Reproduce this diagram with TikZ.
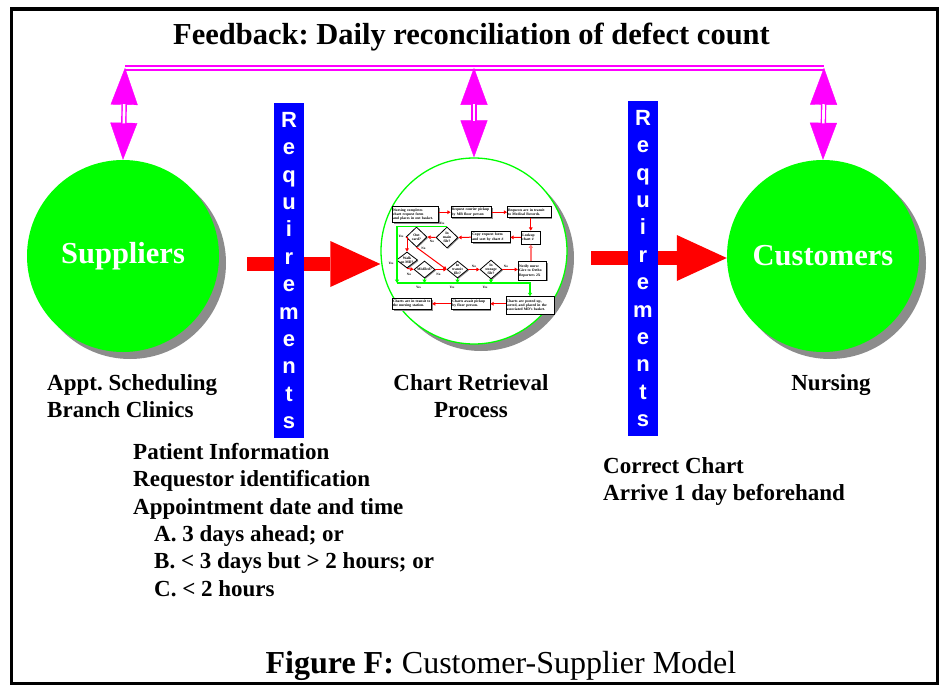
\documentclass[tikz,border=0pt]{standalone}
\usepackage{fontspec}
\setmainfont{Liberation Serif}
\newfontfamily\reqfont{Liberation Sans}
\usetikzlibrary{arrows.meta,shapes.geometric,shadows,calc}
\definecolor{lime1}{RGB}{0,255,0}
\definecolor{shadowg}{RGB}{140,140,140}
\definecolor{mag}{RGB}{255,0,255}
\definecolor{pureblue}{RGB}{0,0,255}
\definecolor{purered}{RGB}{255,0,0}
\definecolor{pinkred}{RGB}{255,120,120}
\newcommand\minifont{\fontsize{3.7}{4.3}\selectfont\bfseries}
\newcommand\yesnofont{\fontsize{3.3}{3.6}\selectfont\bfseries}
\frenchspacing
\begin{document}
\begin{tikzpicture}[x=1pt,y=-1pt,
  frame/.style={draw=black,line width=3.5pt},
  bigcirc/.style={circle,minimum size=192pt,inner sep=0pt,fill=lime1,text=white,
    font=\fontsize{30.5}{34}\selectfont\bfseries,
    copy shadow={shadow xshift=7pt,shadow yshift=-7pt,fill=shadowg,draw=none}},
  chartcirc/.style={circle,minimum size=186pt,inner sep=0pt,draw=lime1,line width=1.3pt,fill=white,
    copy shadow={shadow xshift=7pt,shadow yshift=-7pt,fill=shadowg,draw=none}},
  feedline/.style={draw=mag,line width=2pt,double=white,double distance=1.8pt},
  fbhead/.style={draw=mag,line width=0.4pt,
    {Triangle[width=27pt,length=37pt]}-{Triangle[width=27pt,length=37pt]}},
  fbshaft/.style={draw=mag,line width=1.4pt,double=white,double distance=2.6pt,
    shorten <=36.5pt,shorten >=36.5pt},
  bigred/.style={draw=purered,line width=14pt,-{Triangle[width=46pt,length=50pt,line width=0pt]}},
  reqbar/.style={fill=pureblue,minimum width=30pt,minimum height=335pt,inner sep=0pt},
  reqtxt/.style={text=white,font=\reqfont\bfseries\fontsize{22}{27.4}\selectfont,
    align=center,inner sep=0pt,anchor=north},
  lbl/.style={font=\fontsize{23}{27.4}\selectfont\bfseries,inner sep=0pt},
  mbox/.style={draw=black,line width=0.8pt,fill=white,inner sep=0.7pt,align=left,font=\minifont,
    copy shadow={shadow xshift=1.3pt,shadow yshift=-1.3pt,fill=black!45,draw=none}},
  dia/.style={diamond,draw=black,line width=0.8pt,fill=white,inner sep=0pt,
    copy shadow={shadow xshift=1pt,shadow yshift=-1pt,fill=black!45,draw=none}},
  dtext/.style={font=\minifont,align=center,inner sep=0pt},
  yn/.style={font=\yesnofont,inner sep=0pt},
  mred/.style={draw=purered,line width=1pt,-{Triangle[width=3.6pt,length=3.2pt]}},
  mpink/.style={draw=pinkred,line width=1.4pt,-{Triangle[width=4pt,length=3.4pt]}},
  mgreenarr/.style={draw=lime1,line width=1.2pt,-{Triangle[width=4pt,length=3.4pt]}}
]
\useasboundingbox (0,0) rectangle (943,685);
\fill[white] (0,0) rectangle (943,685);
\draw[frame] (11.7,9.2) rectangle (937.5,683.5);

% title
\node[font=\fontsize{30.5}{34}\selectfont\bfseries,anchor=base,inner sep=0pt] (title) at (471.5,45)
  {Feedback: Daily reconciliation of defect count};

% circles
\node[bigcirc] (sup) at (123,256) {Suppliers};
\node[bigcirc] (cus) at (823,256) {Customers};
\node[chartcirc] (chart) at (474,251) {};

% feedback line and arrows
\coordinate (fA) at (125,67.75);
\coordinate (fB) at (474,67.75);
\coordinate (fC) at (824,67.75);
\draw[feedline] (fA) -- (fC);
\foreach \c/\n in {fA/sup,fB/chart,fC/cus}{
  \draw[fbhead] (\c) -- (\n.north);
  \draw[fbshaft] (\c) -- (\n.north);
}

% big red arrows
\coordinate (la) at (247,264);
\coordinate (ra) at (591,258);
\draw[bigred] (la) -- (la -| chart.west);
\draw[bigred] (ra) -- (ra -| cus.west);

% requirement bars
\node[reqbar] (reqL) at (289,270.5) {};
\node[reqtxt] (reqLt) at (289,112) {R\\e\\q\\u\\i\\r\\e\\m\\e\\n\\t\\s};
\node[reqbar] (reqR) at (643,268.5) {};
\node[reqtxt] (reqRt) at (643,110) {R\\e\\q\\u\\i\\r\\e\\m\\e\\n\\t\\s};

% mini flowchart
\node[mbox,text width=44.5pt,minimum height=16pt] (b1) at (415.3,214.7)
  {Nursing completes\\chart request form\\and places in out basket.};
\node[mbox,text width=39.3pt,minimum height=11pt] (b2) at (471.3,212.2)
  {Request courier pickup\\by MR floor person};
\node[mbox,text width=42.3pt,minimum height=11pt] (b3) at (529.2,212.2)
  {Requests are in transit\\to Medical Records.};
\node[mbox,text width=17pt,minimum height=13pt] (lk) at (530.8,237.5)
  {Lookup\\chart \#};
\node[mbox,text width=37pt,minimum height=11pt] (cp) at (490.8,237.2)
  {Copy request form\\and sort by chart \#};
\node[mbox,text width=27pt,minimum height=18.3pt] (nt) at (532.5,270.8)
  {Notify nurse\\Give to Ortho\\Reporters 2X};
\node[mbox,text width=46.6pt,minimum height=17.3pt] (po) at (530,305.3)
  {Charts are posted up,\\sorted, and placed in the\\associated MD's basket.};
\node[mbox,text width=37pt,minimum height=11pt] (aw) at (470.8,303.8)
  {Charts await pickup\\by floor person.};
\node[mbox,text width=38pt,minimum height=11pt] (tr) at (412,303.8)
  {Charts are in transit to\\the nursing station.};

\node[dia,minimum width=22pt,minimum height=21pt] (dmain) at (447,237.5) {};
\node[dtext] (dmaint) at (dmain) {In\\main\\file?};
\node[dia,minimum width=21pt,minimum height=20pt] (dout) at (416.5,237) {};
\node[dtext] (doutt) at (dout) {Out\\card?};
\node[dia,minimum width=21pt,minimum height=16pt] (dwalk) at (407,260) {};
\node[dtext] (dwalkt) at (dwalk) {Walk\\on MD?};
\node[dia,minimum width=21pt,minimum height=17pt] (dmis) at (424.5,269.5) {};
\node[dtext] (dmist) at (dmis) {Misfiled?};
\node[dia,minimum width=21pt,minimum height=17pt] (dtr) at (457.5,269.5) {};
\node[dtext] (dtrt) at (dtr) {In\\transit\\file?};
\node[dia,minimum width=22pt,minimum height=19pt] (dst) at (491,269.5) {};
\node[dtext] (dstt) at (dst) {In\\storage\\file?};

% mini connectors
\draw[mred] (b1.east |- b2.west) -- (b2.west);
\draw[mred] (b2) -- (b3);
\draw[mred] (lk.north |- b3.south) -- (lk.north);
\draw[mred] (lk) -- (cp);
\draw[mred] (cp.west) -- (dmain.east);
\draw[mred] (dmain.west) -- (dout.east);
\draw[mred] (dout.west) -| (dwalk.north);
\draw[mred] (dout.south) -- (dtr.west);
\draw[mred] (dwalk.south) -- (dmis.west);
\draw[mred] (dmis) -- (dtr);
\draw[mred] (dtr) -- (dst);
\draw[mred] (dst.east) -- (nt.west |- dst.east);
\draw[mpink] (lk.south |- nt.north) -- (lk.south);
\draw[mred] (po.west |- aw) -- (aw.east);
\draw[mred] (aw) -- (tr);

\coordinate (g1) at (397,226);
\coordinate (g2) at (397,283);
\draw[mgreenarr] (dmain.north) -- (dmain.north -| g1) -- (g2);
\draw[mgreenarr] (g2) -| (po.north);
\draw[mgreenarr] (dmis.south) -- (dmis.south |- g2);
\draw[mgreenarr] (dtr.south) -- (dtr.south |- g2);
\draw[mgreenarr] (dst.south) -- (dst.south |- g2);

\node[yn] (y1) at (442,223.5) {Yes};
\node[yn] (n1) at (432,241.5) {No};
\node[yn] (y2) at (401,236) {Yes};
\node[yn] (n2) at (423.5,248) {No};
\node[yn] (y3) at (391,263) {Yes};
\node[yn] (n3) at (409,274) {No};
\node[yn] (n4) at (438.5,274) {No};
\node[yn] (y4) at (418.5,287.5) {Yes};
\node[yn] (y5) at (452,287.5) {Yes};
\node[yn] (y6) at (485,287.5) {Yes};
\node[yn] (n5) at (474,266) {No};
\node[yn] (n6) at (506,266) {No};

% labels
\node[lbl,anchor=base west] (s1) at (47,390) {Appt. Scheduling};
\node[lbl,anchor=base west] (s2) at (47,417.4) {Branch Clinics};
\node[lbl,anchor=base] (c1) at (471,390) {Chart Retrieval};
\node[lbl,anchor=base] (c2) at (471,417.4) {Process};
\node[lbl,anchor=base] (n0) at (831,390) {Nursing};

\node[lbl,anchor=base west] (p1) at (133,459.3) {Patient Information};
\node[lbl,anchor=base west] (p2) at (133,486.7) {Requestor identification};
\node[lbl,anchor=base west] (p3) at (133,514) {Appointment date and time};
\node[lbl,anchor=base west] (p4) at (154,541.3) {A. 3 days ahead; or};
\node[lbl,anchor=base west] (p5) at (154,568.6) {B. {<} 3 days but {>} 2 hours; or};
\node[lbl,anchor=base west] (p6) at (154,596) {C. {<} 2 hours};

\node[lbl,anchor=base west] (r1) at (603,473) {Correct Chart};
\node[lbl,anchor=base west] (r2) at (603,500.4) {Arrive 1 day beforehand};

\node[font=\fontsize{32}{36}\selectfont,anchor=base,inner sep=0pt] (cap) at (501,673)
  {\textbf{Figure F:} Customer-Supplier Model};
\end{tikzpicture}
\end{document}
